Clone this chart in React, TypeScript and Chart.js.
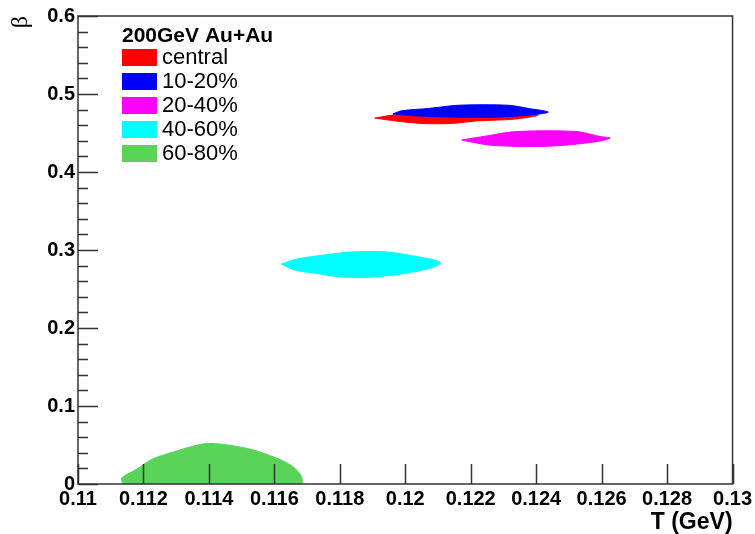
import { useEffect, useRef } from 'react';
import { Chart, registerables } from 'chart.js';
Chart.register(...registerables);

const LEGEND_TITLE = '200GeV Au+Au';
const X_TITLE = 'T (GeV)';
const Y_TITLE = 'β';
const SERIES_LABELS = ['central', '10-20%', '20-40%', '40-60%', '60-80%'];
const SERIES_COLORS = ['#ff0000', '#0000ff', '#ff00ff', '#00ffff', '#59d459'];

const X_TICKS = [0.11, 0.112, 0.114, 0.116, 0.118, 0.12, 0.122, 0.124, 0.126, 0.128, 0.13];
const X_TICK_LABELS = ['0.11', '0.112', '0.114', '0.116', '0.118', '0.12', '0.122', '0.124', '0.126', '0.128', '0.13'];
const Y_TICKS = [0, 0.1, 0.2, 0.3, 0.4, 0.5, 0.6];
const Y_TICK_LABELS = ['0', '0.1', '0.2', '0.3', '0.4', '0.5', '0.6'];
const Y_MINOR_TICKS = [0.02, 0.04, 0.06, 0.08, 0.12, 0.14, 0.16, 0.18, 0.22, 0.24, 0.26, 0.28, 0.32, 0.34, 0.36, 0.38, 0.42, 0.44, 0.46, 0.48, 0.52, 0.54, 0.56, 0.58];

// contour outlines (T, beta)
const CENTRAL_T = [0.11907, 0.11965, 0.12072, 0.12285, 0.12406, 0.12336, 0.12215, 0.12142, 0.1205, 0.11971, 0.11907];
const CENTRAL_BETA = [0.4692, 0.4731, 0.4756, 0.4769, 0.4731, 0.4679, 0.4654, 0.4622, 0.4622, 0.4654, 0.4692];

const C1020_T = [0.11962, 0.11989, 0.12072, 0.12163, 0.12315, 0.12376, 0.12437, 0.12397, 0.12285, 0.12132, 0.12041, 0.11962];
const C1020_BETA = [0.4744, 0.4785, 0.4815, 0.4856, 0.4856, 0.4815, 0.4769, 0.4737, 0.4705, 0.4705, 0.4718, 0.4744];

const C2040_T = [0.12172, 0.12248, 0.12339, 0.12522, 0.12595, 0.12626, 0.12595, 0.12513, 0.12412, 0.12269, 0.12218, 0.12172];
const C2040_BETA = [0.441, 0.4462, 0.4519, 0.4519, 0.4455, 0.4436, 0.4397, 0.4353, 0.4327, 0.434, 0.4372, 0.441];

const C4060_T = [0.11621, 0.1167, 0.11752, 0.11834, 0.11944, 0.12026, 0.12087, 0.12108, 0.12078, 0.12005, 0.11904, 0.11804, 0.11721, 0.11661, 0.11621];
const C4060_BETA = [0.2821, 0.2885, 0.2936, 0.2974, 0.2974, 0.2923, 0.2872, 0.2833, 0.2769, 0.2705, 0.2654, 0.2654, 0.2705, 0.2744, 0.2821];

const C6080_T = [0.11137, 0.11134, 0.1118, 0.11228, 0.11301, 0.11381, 0.11432, 0.11524, 0.11606, 0.11654, 0.11682, 0.11682, 0.11137];
const C6080_BETA = [0, 0.0077, 0.0192, 0.0321, 0.0423, 0.0513, 0.0513, 0.0449, 0.0333, 0.0231, 0.0103, 0, 0];

const SERIES_T = [CENTRAL_T, C1020_T, C2040_T, C4060_T, C6080_T];
const SERIES_BETA = [CENTRAL_BETA, C1020_BETA, C2040_BETA, C4060_BETA, C6080_BETA];
const SERIES_ORDER = [2, 1, 3, 4, 5];

const FONT = '"Liberation Sans", Arial, sans-serif';

const rootFrame = {
  id: 'rootFrame',
  afterDraw(chart: any) {
    const { ctx, chartArea: a, scales } = chart;
    const x = scales.x;
    const y = scales.y;
    ctx.save();
    ctx.strokeStyle = '#333333';
    ctx.lineWidth = 1.5;
    ctx.beginPath();
    for (const v of X_TICKS) {
      const px = Math.round(x.getPixelForValue(v)) + 0.5;
      ctx.moveTo(px, a.bottom);
      ctx.lineTo(px, a.bottom - 20);
    }
    for (const v of Y_TICKS) {
      const py = Math.round(y.getPixelForValue(v)) + 0.5;
      ctx.moveTo(a.left, py);
      ctx.lineTo(a.left + 20, py);
    }
    for (const v of Y_MINOR_TICKS) {
      const py = Math.round(y.getPixelForValue(v)) + 0.5;
      ctx.moveTo(a.left, py);
      ctx.lineTo(a.left + 10, py);
    }
    ctx.stroke();
    ctx.strokeRect(a.left, a.top, a.right - a.left, a.bottom - a.top);

    // legend
    const lx = a.left + 44;
    ctx.fillStyle = '#000';
    ctx.textBaseline = 'middle';
    ctx.textAlign = 'left';
    ctx.font = 'bold 21px ' + FONT;
    ctx.fillText(LEGEND_TITLE, lx, a.top + 20);
    ctx.font = '22px ' + FONT;
    chart.data.datasets.forEach((ds: any, i: number) => {
      const cy = a.top + 41 + i * 24;
      ctx.fillStyle = ds.backgroundColor;
      ctx.fillRect(lx, cy - 8, 35, 17);
      ctx.fillStyle = '#000';
      ctx.fillText(ds.label, lx + 40, cy + 1);
    });
    ctx.restore();
  },
};

export default function App() {
  const ref = useRef<HTMLCanvasElement | null>(null);
  useEffect(() => {
    if (!ref.current) return;
    const datasets = SERIES_LABELS.map((label, i) => ({
      label,
      data: SERIES_T[i].map((t, k) => ({ x: t, y: SERIES_BETA[i][k] })),
      backgroundColor: SERIES_COLORS[i],
      borderColor: SERIES_COLORS[i],
      borderWidth: 1,
      showLine: true,
      fill: 'shape',
      tension: 0.3,
      pointRadius: 0,
      pointHoverRadius: 0,
      order: SERIES_ORDER[i],
    }));
    const chart = new Chart(ref.current, {
      type: 'scatter',
      data: { datasets } as any,
      plugins: [rootFrame],
      options: {
        animation: false,
        responsive: false,
        events: [],
        layout: { padding: { top: 16, right: 21, left: 0, bottom: 0 } },
        plugins: { legend: { display: false }, tooltip: { enabled: false } },
        scales: {
          x: {
            type: 'linear',
            min: 0.11,
            max: 0.13,
            afterBuildTicks: (s: any) => { s.ticks = X_TICKS.map((v) => ({ value: v })); },
            afterFit: (s: any) => { s.height = 50; },
            grid: { display: false, drawTicks: false, tickLength: 0 },
            border: { display: false },
            ticks: {
              autoSkip: false,
              maxRotation: 0,
              padding: 3,
              color: '#000',
              font: { family: FONT, size: 20, weight: 'bold' },
              callback: (_v: any, idx: number) => X_TICK_LABELS[idx],
            },
            title: {
              display: true,
              text: X_TITLE,
              align: 'end',
              color: '#000',
              padding: { top: 0, bottom: 0 },
              font: { family: FONT, size: 23, weight: 'bold', lineHeight: 1 },
            },
          },
          y: {
            type: 'linear',
            min: 0,
            max: 0.6,
            afterBuildTicks: (s: any) => { s.ticks = Y_TICKS.map((v) => ({ value: v })); },
            afterFit: (s: any) => { s.width = 78; },
            grid: { display: false, drawTicks: false, tickLength: 0 },
            border: { display: false },
            ticks: {
              autoSkip: false,
              padding: 3,
              color: '#000',
              font: { family: FONT, size: 20, weight: 'bold' },
              callback: (_v: any, idx: number) => Y_TICK_LABELS[idx],
            },
            title: {
              display: true,
              text: Y_TITLE,
              align: 'end',
              color: '#000',
              padding: { top: 6, bottom: 0 },
              font: { family: '"Liberation Serif", serif', size: 24 },
            },
          },
        },
      } as any,
    });
    return () => chart.destroy();
  }, []);
  return (
    <div style={{ position: 'absolute', left: 0, top: 0, width: 755, height: 534, background: '#fff' }}>
      <canvas ref={ref} width={755} height={534} style={{ display: 'block' }} />
    </div>
  );
}
